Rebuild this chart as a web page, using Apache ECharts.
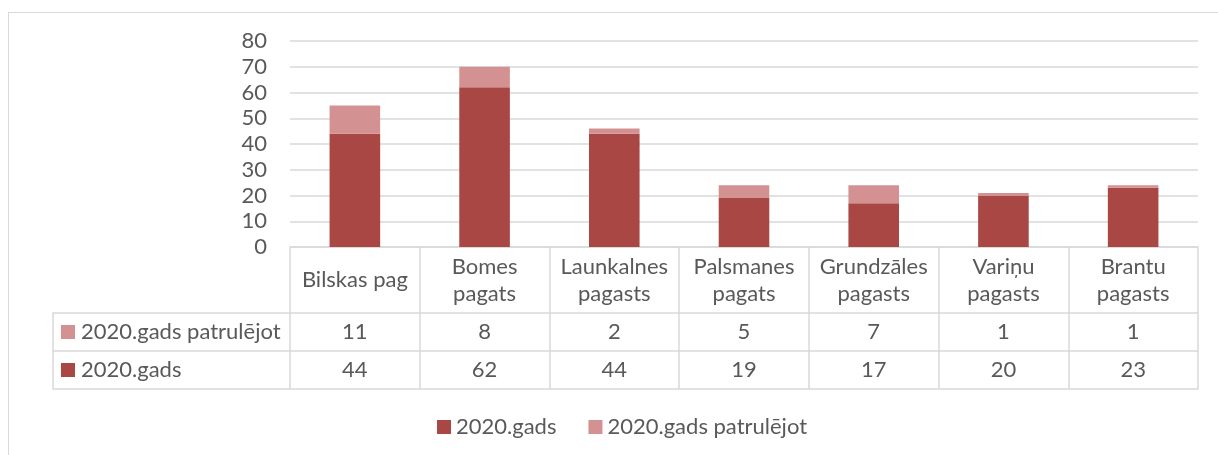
<!DOCTYPE html>
<html>
<head>
<meta charset="utf-8">
<script src="https://cdn.jsdelivr.net/npm/echarts@6/dist/echarts.min.js"></script>
<style>
html,body{margin:0;padding:0;background:#fff;overflow:hidden;}
#frame{position:absolute;left:8px;top:12px;width:1400px;height:600px;border:1.5px solid #d9d9d9;box-sizing:border-box;}
#chart{position:absolute;left:0;top:0;width:1218px;height:455px;}
</style>
</head>
<body>
<div id="frame"></div>
<div id="chart"></div>
<script>
var categories = ['Bilskas pag', 'Bomes\npagats', 'Launkalnes\npagasts', 'Palsmanes\npagats', 'Grundzāles\npagasts', 'Variņu\npagasts', 'Brantu\npagasts'];
var gads = [44, 62, 44, 19, 17, 20, 23];
var patruleti = [11, 8, 2, 5, 7, 1, 1];
var seriesNames = ['2020.gads', '2020.gads patrulējot'];
var colors = ['#A84744', '#D39291'];

var FONT = 'Lato';
var FS = 22;
var TXT = '#595959';
var LINE = '#d9d9d9';

var chart = echarts.init(document.getElementById('chart'), null, {renderer: 'canvas'});
var option = {
  animation: false,
  textStyle: {fontFamily: FONT},
  legend: {
    data: seriesNames,
    left: 432, top: 411,
    icon: 'rect', itemWidth: 14, itemHeight: 14, itemGap: 32,
    textStyle: {fontFamily: FONT, fontSize: FS, color: TXT}
  },
  grid: [
    {left: 290, top: 41, width: 908, height: 206, containLabel: false},
    {left: 53, top: 313, width: 237, height: 76, containLabel: false}
  ],
  xAxis: [
    {
      gridIndex: 0, type: 'category', data: categories, position: 'bottom',
      axisLine: {show: true, lineStyle: {color: LINE, width: 1.5}},
      axisTick: {show: true, interval: 0, length: 142, lineStyle: {color: LINE, width: 1.5}},
      axisLabel: {interval: 0, margin: 33, verticalAlign: 'middle', fontFamily: FONT, fontSize: FS, color: TXT, lineHeight: 27}
    },
    {
      gridIndex: 0, type: 'category', data: categories, position: 'bottom', offset: 66,
      axisLine: {show: true, lineStyle: {color: LINE, width: 1.5}},
      axisTick: {show: false},
      axisLabel: {interval: 0, margin: 19, verticalAlign: 'middle', fontFamily: FONT, fontSize: FS, color: TXT,
        formatter: function (v, i) { return String(patruleti[i]); }}
    },
    {
      gridIndex: 0, type: 'category', data: categories, position: 'bottom', offset: 104,
      axisLine: {show: true, lineStyle: {color: LINE, width: 1.5}},
      axisTick: {show: false},
      axisLabel: {interval: 0, margin: 19, verticalAlign: 'middle', fontFamily: FONT, fontSize: FS, color: TXT,
        formatter: function (v, i) { return String(gads[i]); }}
    },
    {
      gridIndex: 0, type: 'category', data: categories, position: 'bottom', offset: 142,
      axisLine: {show: true, lineStyle: {color: LINE, width: 1.5}},
      axisTick: {show: false}, axisLabel: {show: false}
    },
    {gridIndex: 1, type: 'value', show: false}
  ],
  yAxis: [
    {
      gridIndex: 0, type: 'value', min: 0, max: 80, interval: 10,
      axisLine: {show: false}, axisTick: {show: false},
      axisLabel: {margin: 23, fontFamily: FONT, fontSize: FS, color: TXT},
      splitLine: {show: true, lineStyle: {color: LINE, width: 1.5}}
    },
    {
      gridIndex: 1, type: 'category', data: seriesNames, position: 'left',
      axisLine: {show: true, lineStyle: {color: LINE, width: 1.5}},
      axisTick: {show: true, inside: true, interval: 0, length: 237, lineStyle: {color: LINE, width: 1.5}},
      axisLabel: {
        inside: true, margin: 8, align: 'left', verticalAlign: 'middle', interval: 0,
        fontFamily: FONT, fontSize: FS, color: TXT,
        formatter: function (v, i) { return '{m' + i + '|}{t|' + v + '}'; },
        rich: {
          m0: {width: 14, height: 14, backgroundColor: colors[0]},
          m1: {width: 14, height: 14, backgroundColor: colors[1]},
          t: {fontFamily: FONT, fontSize: FS, color: TXT, padding: [0, 0, 0, 6]}
        }
      },
      splitLine: {show: false}
    }
  ],
  series: [
    {name: seriesNames[0], type: 'bar', stack: 'a', data: gads, barWidth: '39%', itemStyle: {color: colors[0]}, xAxisIndex: 0, yAxisIndex: 0},
    {name: seriesNames[1], type: 'bar', stack: 'a', data: patruleti, barWidth: '39%', itemStyle: {color: colors[1]}, xAxisIndex: 0, yAxisIndex: 0}
  ]
};
chart.setOption(option);
</script>
</body>
</html>
